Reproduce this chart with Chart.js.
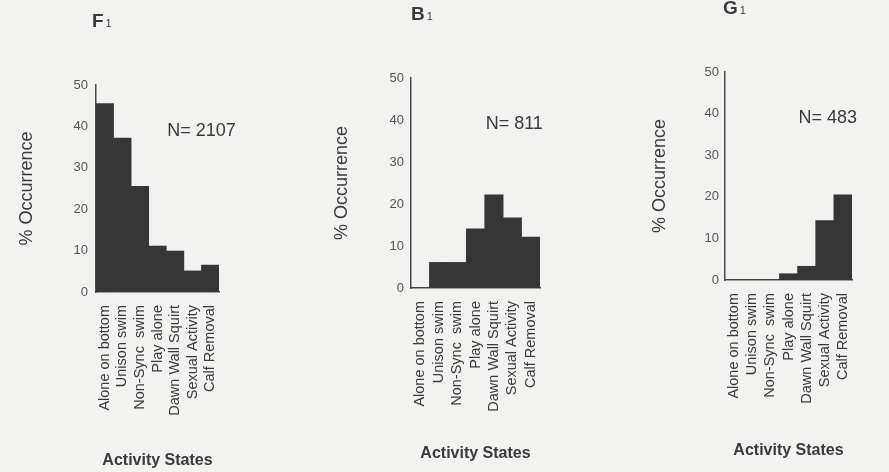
<!DOCTYPE html>
<html>
<head>
<meta charset="utf-8">
<script src="https://cdn.jsdelivr.net/npm/chart.js@4.4.1/dist/chart.umd.min.js"></script>
<style>
  html, body { margin: 0; padding: 0; background: #f2f2f0; }
  #wrap { position: relative; width: 889px; height: 472px; overflow: hidden; }
  .panel { position: absolute; top: 0; height: 472px; }
</style>
</head>
<body>
<div id="wrap">
  <div class="panel" style="left:0;width:290px"><canvas id="f1"></canvas></div>
  <div class="panel" style="left:290px;width:300px"><canvas id="b1"></canvas></div>
  <div class="panel" style="left:590px;width:299px"><canvas id="g1"></canvas></div>
</div>
<script>
var categories = ['Alone on bottom', 'Unison swim', 'Non-Sync  swim', 'Play alone', 'Dawn Wall Squirt', 'Sexual Activity', 'Calf Removal'];
var f1Values = [45.5, 37.2, 25.5, 11.1, 9.9, 5.1, 6.5];
var b1Values = [0, 6.1, 6.1, 14.1, 22.2, 16.7, 12.1];
var g1Values = [0, 0, 0, 1.5, 3.3, 14.3, 20.5];
var yMin = 0;
var yMax = 50;
var yStep = 10;

var FONT = "'Liberation Sans', Arial, Helvetica, sans-serif";
var barColor = '#363636';
var textColor = '#3a3a3a';

// panel letter (with subscript) and the N= label
var panelText = {
    id: 'panelText',
    afterDraw: function (chart) {
        var o = chart.options.plugins.panelText;
        var ctx = chart.ctx;
        var area = chart.chartArea;
        ctx.save();
        ctx.fillStyle = textColor;
        ctx.textBaseline = 'alphabetic';
        ctx.font = 'bold 19px ' + FONT;
        var tx = area.left + o.titleDx;
        var ty = area.top - o.titleDy;
        ctx.fillText(o.letter, tx, ty);
        var w = ctx.measureText(o.letter).width;
        ctx.font = '11px ' + FONT;
        ctx.fillText('1', tx + w + 2, ty);
        // N label sits in data space
        ctx.font = '18px ' + FONT;
        ctx.textBaseline = 'middle';
        var nx = chart.scales.x.getPixelForValue(o.nAt);
        var ny = chart.scales.y.getPixelForValue(o.nY);
        ctx.fillText(o.n, nx, ny);
        ctx.restore();
    }
};

function makeChart(id, values, cfg) {
    var ctx = document.getElementById(id);
    return new Chart(ctx, {
        type: 'bar',
        data: {
            labels: categories,
            datasets: [{
                data: values,
                backgroundColor: barColor,
                borderWidth: 0,
                barPercentage: 1,
                categoryPercentage: 1
            }]
        },
        options: {
            responsive: true,
            maintainAspectRatio: false,
            animation: false,
            layout: { padding: { left: 0, top: cfg.top, right: cfg.right, bottom: 0 } },
            plugins: {
                legend: { display: false },
                tooltip: { enabled: false },
                panelText: {
                    letter: cfg.letter, n: cfg.n, nAt: 3.55, nY: 39,
                    titleDx: cfg.titleDx, titleDy: 58
                }
            },
            scales: {
                x: {
                    grid: { display: false, drawTicks: false },
                    border: { display: true, color: '#4a4a4a', width: 1.5 },
                    ticks: {
                        color: textColor,
                        font: { family: FONT, size: 14.5 },
                        minRotation: 90, maxRotation: 90,
                        autoSkip: false,
                        padding: 13
                    },
                    title: {
                        display: true,
                        text: 'Activity States',
                        color: textColor,
                        font: { family: FONT, size: 16, weight: 'bold' },
                        padding: { top: 0, bottom: cfg.xTitlePad }
                    },
                    afterFit: function (scale) { scale.height = cfg.xHeight; }
                },
                y: {
                    min: yMin, max: yMax,
                    grid: { display: false, drawTicks: false },
                    border: { display: true, color: '#4a4a4a', width: 1.5 },
                    ticks: {
                        stepSize: yStep,
                        color: '#555',
                        font: { family: FONT, size: 13 },
                        padding: cfg.tickPad
                    },
                    title: {
                        display: true,
                        text: '% Occurrence',
                        color: textColor,
                        font: { family: FONT, size: 18 },
                        padding: { top: cfg.yTitlePad, bottom: 0 }
                    },
                    afterFit: function (scale) { scale.width = cfg.yWidth; }
                }
            }
        },
        plugins: [panelText]
    });
}

makeChart('f1', f1Values, {
    letter: 'F', n: 'N= 2107', titleDx: -4,
    top: 85, right: 71, yWidth: 96, xHeight: 180,
    yTitlePad: 16, xTitlePad: 2, tickPad: 8
});
makeChart('b1', b1Values, {
    letter: 'B', n: 'N= 811', titleDx: 0,
    top: 78, right: 50, yWidth: 121, xHeight: 184,
    yTitlePad: 41, xTitlePad: 9, tickPad: 7
});
makeChart('g1', g1Values, {
    letter: 'G', n: 'N= 483', titleDx: -2,
    top: 72, right: 37, yWidth: 135, xHeight: 192,
    yTitlePad: 59, xTitlePad: 12, tickPad: 6
});
</script>
</body>
</html>
